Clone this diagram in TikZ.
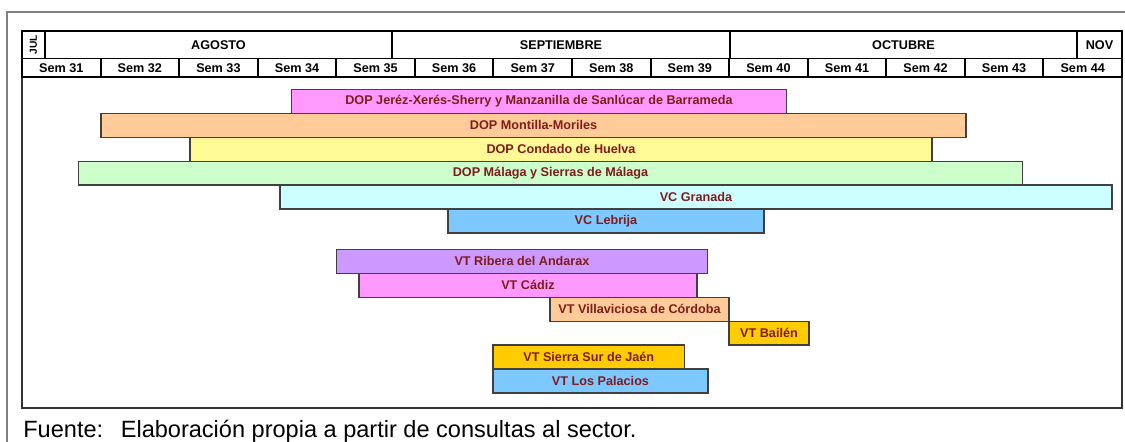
\documentclass[tikz,border=0pt]{standalone}
\usepackage{fontspec}
\setmainfont{Liberation Sans}
\definecolor{labelred}{RGB}{128,28,28}
\definecolor{pinkbar}{RGB}{255,153,255}
\definecolor{peachbar}{RGB}{255,204,153}
\definecolor{yellowbar}{RGB}{255,250,150}
\definecolor{greenbar}{RGB}{204,255,204}
\definecolor{cyanbar}{RGB}{204,255,255}
\definecolor{bluebar}{RGB}{125,200,255}
\definecolor{lilacbar}{RGB}{204,153,255}
\definecolor{goldbar}{RGB}{255,204,0}
\tikzset{
	cell/.style={draw, line width=1.1pt, inner sep=0pt, font=\fontsize{7.2}{8}\selectfont\bfseries},
	bar/.style={draw=black!75, line width=0.8pt, inner sep=0pt, minimum height=0.478cm, text=labelred, font=\fontsize{7.2}{8}\selectfont\bfseries},
}
\begin{document}
\begin{tikzpicture}[x=0.02cm, y=-0.02cm]
				\useasboundingbox (0,0) rectangle (1125,442);
				%frame
				\draw[gray, line width=0.7pt] (7,442) -- (7,12) -- (1125,12);
				\draw[black!80, line width=1pt] (22,77) rectangle (1122,408);
				
				%months
				\node[cell, rotate=90, minimum width=0.55cm, minimum height=0.46cm, font=\fontsize{5.8}{6}\selectfont\bfseries] (jul) at (33.5,44.75) {JUL};
				\node[cell, minimum width=6.94cm, minimum height=0.55cm] (ago) at (218.5,44.75) {AGOSTO};
				\node[cell, minimum width=6.76cm, minimum height=0.55cm] (sep) at (561,44.75) {SEPTIEMBRE};
				\node[cell, minimum width=6.94cm, minimum height=0.55cm] (oct) at (903.5,44.75) {OCTUBRE};
				\node[cell, minimum width=0.9cm, minimum height=0.55cm] (nov) at (1099.5,44.75) {NOV};
				
				%weeks
				\foreach \w in {31, 32, ..., 44}{
					\node[cell, minimum width=1.5714cm, minimum height=0.37cm] (w\w) at ({22+78.57*(\w-30.5)}, 67.75) {Sem \w};
				}
				
				%DOP and VC
				\node[bar, fill=pinkbar, minimum width=9.9cm] (jerez) at (539, 101.46) {DOP Jeréz-Xerés-Sherry y Manzanilla de Sanlúcar de Barrameda};
				\node[bar, fill=peachbar, minimum width=17.3cm] (montilla) at (533.5, 125.38) {DOP Montilla-Moriles};
				\node[bar, fill=yellowbar, minimum width=14.84cm] (condado) at (561, 149.3) {DOP Condado de Huelva};
				\node[bar, fill=greenbar, minimum width=18.88cm] (malaga) at (550.5, 173.22) {DOP Málaga y Sierras de Málaga};
				\node[bar, fill=cyanbar, minimum width=16.64cm] (granada) at (696, 197.14) {VC Granada};
				\node[bar, fill=bluebar, minimum width=6.32cm] (lebrija) at (606, 221.06) {VC Lebrija};
				
				%VT
				\node[bar, fill=lilacbar, minimum width=7.42cm] (ribera) at (522, 261.46) {VT Ribera del Andarax};
				\node[bar, fill=pinkbar, minimum width=6.76cm] (cadiz) at (528, 285.38) {VT Cádiz};
				\node[bar, fill=peachbar, minimum width=3.58cm] (villaviciosa) at (639.5, 309.3) {VT Villaviciosa de Córdoba};
				\node[bar, fill=goldbar, minimum width=1.6cm] (bailen) at (769, 333.22) {VT Bailén};
				\node[bar, fill=goldbar, minimum width=3.83cm] (sierrasur) at (588.75, 357.14) {VT Sierra Sur de Jaén};
				\node[bar, fill=bluebar, minimum width=4.3cm] (palacios) at (600.5, 381.06) {VT Los Palacios};
				
				%source
				\node[anchor=base west, inner sep=0pt, font=\fontsize{13.4}{16}\selectfont] (fuente) at (23,437) {Fuente:\hspace{0.75em}Elaboración propia a partir de consultas al sector.};
\end{tikzpicture}
\end{document}
